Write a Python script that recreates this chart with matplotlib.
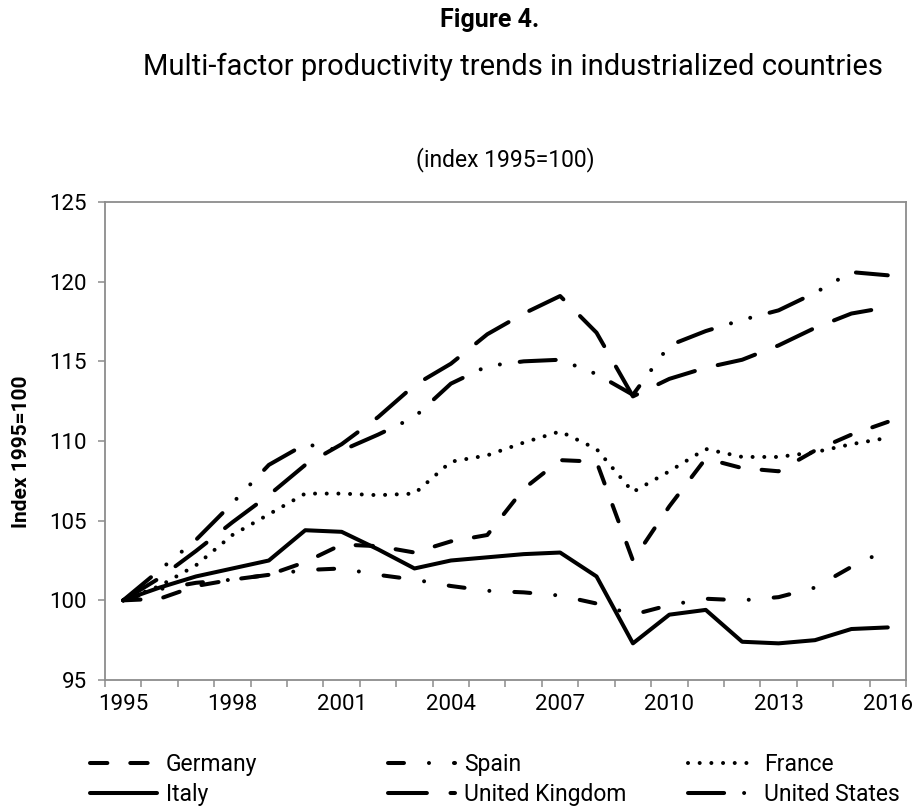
import numpy as np
import matplotlib
matplotlib.use("Agg")
import matplotlib.pyplot as plt

plt.rcParams["font.family"] = ["Roboto", "DejaVu Sans"]
plt.rcParams["lines.scale_dashes"] = False

# index 1995 = 100
years = list(range(1995, 2017))
germany = [100, 100.1, 100.9, 101.3, 101.6, 102.4, 103.5, 103.4, 103.0, 103.7, 104.1,
           107.0, 108.8, 108.7, 102.5, 105.9, 108.9, 108.3, 108.1, 109.4, 110.4, 111.2]
spain = [100, 100.7, 101.1, 101.3, 101.6, 101.9, 102.0, 101.6, 101.3, 100.9, 100.6,
         100.5, 100.3, 99.8, 99.1, 99.7, 100.1, 100.0, 100.2, 100.8, 102.1, 103.2]
france = [100, 100.9, 102.2, 104.1, 105.4, 106.7, 106.7, 106.6, 106.7, 108.7, 109.1,
          109.9, 110.6, 109.5, 106.8, 108.1, 109.5, 109.0, 109.0, 109.3, 109.8, 110.2]
italy = [100, 100.8, 101.5, 102.0, 102.5, 104.4, 104.3, 103.2, 102.0, 102.5, 102.7,
         102.9, 103.0, 101.5, 97.3, 99.1, 99.4, 97.4, 97.3, 97.5, 98.2, 98.3]
uk = [100, 101.4, 103.1, 104.9, 106.6, 108.5, 109.8, 111.5, 113.5, 114.85, 116.7,
      118.0, 119.1, 116.8, 112.8, 113.9, 114.6, 115.1, 116.0, 117.1, 118.0, 118.4]
us = [100, 101.9, 103.8, 106.1, 108.5, 109.8, 109.4, 110.4, 111.5, 113.6, 114.7,
      115.0, 115.1, 114.2, 112.9, 116.0, 116.9, 117.6, 118.2, 119.3, 120.6, 120.4]

series = [
    ("Germany", germany, (0, (12.5, 16.5))),
    ("Spain", spain, (0, (11.5, 18, 0.01, 18))),
    ("France", france, (0, (0.01, 8.4))),
    ("Italy", italy, "-"),
    ("United Kingdom", uk, (0, (28, 17))),
    ("United States", us, (0, (26, 14.4, 0.01, 14.4, 0.01, 14.4))),
]

fig = plt.figure(figsize=(9.17, 8.10), dpi=100)
ax = fig.add_axes([0.1145, 0.1605, 0.8735, 0.5901])

x = np.arange(len(years))
lines = {}
for name, vals, ls in series:
    ln, = ax.plot(x, vals, color="black", lw=2.9, linestyle=ls,
                  dash_capstyle="round", solid_capstyle="round",
                  solid_joinstyle="round", label=name)
    lines[name] = ln

ax.set_xlim(-0.5, len(years) - 0.5)
ax.set_ylim(95, 125)
ax.set_yticks(np.arange(95, 126, 5))

# category axis: ticks between years, labels every 3 years
ax.set_xticks(np.arange(-0.5, len(years), 1))
ax.set_xticklabels([])
ax.set_xticks(x[::3], minor=True)
ax.set_xticklabels([str(y) for y in years[::3]], minor=True)
ax.tick_params(axis="x", which="minor", length=0, pad=10, labelsize=16)
ax.tick_params(axis="x", which="major", length=5, width=1.1, color="#8c8c8c")
ax.tick_params(axis="y", length=5, width=1.1, color="#8c8c8c", pad=8, labelsize=16)

for sp in ax.spines.values():
    sp.set_color("#8c8c8c")
    sp.set_linewidth(1.3)

fig.text(0.534, 0.975, "Figure 4.", ha="center", va="center", fontsize=18, fontweight="bold")
fig.text(0.559, 0.917, "Multi-factor productivity trends in industrialized countries",
         ha="center", va="center", fontsize=21)
fig.text(0.551, 0.8025, "(index 1995=100)", ha="center", va="center", fontsize=16.5)
fig.text(0.023, 0.442, "Index 1995=100", rotation=90, ha="center", va="center",
         fontsize=15, fontweight="bold")

cols = [("Germany", "Italy", 0.098), ("Spain", "United Kingdom", 0.423),
        ("France", "United States", 0.7505)]
for a, b, xpos in cols:
    fig.legend([lines[a], lines[b]], [a, b], loc="upper left",
               bbox_to_anchor=(xpos, 0.0705), frameon=False,
               fontsize=16.5, handlelength=2.92, handletextpad=0.39,
               labelspacing=0.3, borderaxespad=0, borderpad=0)

fig.savefig("out.png", dpi=100, facecolor="white")
